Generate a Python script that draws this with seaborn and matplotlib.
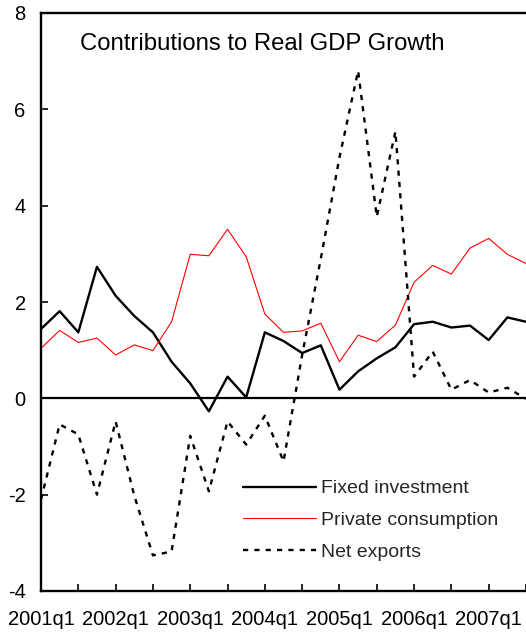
import numpy as np
import pandas as pd
import matplotlib
matplotlib.use("Agg")
import matplotlib.pyplot as plt
import seaborn as sns

# quarters 2001q1 .. 2007q3
quarters = [f"{y}q{q}" for y in range(2001, 2008) for q in range(1, 5)][:27]
tick_labels = ["2001q1", "2002q1", "2003q1", "2004q1", "2005q1", "2006q1", "2007q1"]

fixed_investment = [1.44, 1.81, 1.37, 2.73, 2.13, 1.71, 1.37, 0.76, 0.31, -0.27,
                    0.45, 0.02, 1.37, 1.19, 0.94, 1.10, 0.18, 0.56, 0.83, 1.06,
                    1.54, 1.59, 1.47, 1.51, 1.21, 1.68, 1.59]
private_consumption = [1.04, 1.41, 1.16, 1.25, 0.90, 1.11, 0.99, 1.59, 2.99, 2.96,
                       3.51, 2.94, 1.75, 1.37, 1.40, 1.56, 0.76, 1.31, 1.18, 1.52,
                       2.41, 2.76, 2.58, 3.12, 3.32, 2.99, 2.80]
net_exports = [-2.1, -0.54, -0.75, -2.0, -0.48, -2.02, -3.26, -3.18, -0.78, -1.93,
               -0.48, -0.96, -0.36, -1.31, 0.9, 2.9, 5.0, 6.8, 3.77, 5.54,
               0.45, 0.97, 0.18, 0.38, 0.12, 0.22, -0.01]

df = pd.DataFrame({
    "idx": np.arange(len(quarters)),
    "quarter": quarters,
    "Fixed investment": fixed_investment,
    "Private consumption": private_consumption,
    "Net exports": net_exports,
})

sns.set_theme(style="white")
plt.rcParams["font.family"] = ["Liberation Sans", "DejaVu Sans"]
plt.rcParams["axes.unicode_minus"] = False

W, H = 526, 633
fig = plt.figure(figsize=(W / 100, H / 100), dpi=100)
ax = fig.add_axes([41 / W, (H - 591) / H, (526 - 41) / W, (591 - 13) / H])

sns.lineplot(data=df, x="idx", y="Fixed investment", ax=ax, color="black",
             linewidth=1.7, label="Fixed investment")
sns.lineplot(data=df, x="idx", y="Private consumption", ax=ax, color="red",
             linewidth=0.8, label="Private consumption")
sns.lineplot(data=df, x="idx", y="Net exports", ax=ax, color="black",
             linewidth=1.7, label="Net exports")
ax.lines[-1].set_dashes((2.2, 2.6))

ax.axhline(0, color="black", linewidth=1.6, zorder=1)

ax.set_xlim(0, 26)
ax.set_ylim(-4, 8)
ax.set_yticks(range(-4, 9, 2))
ax.set_xticks(range(0, 27, 2))
ax.set_xticklabels([quarters[i] if quarters[i] in tick_labels else "" for i in range(0, 27, 2)])
ax.set_xlabel("")
ax.set_ylabel("")
ax.tick_params(axis="both", direction="in", length=5, width=1.2, colors="black",
               labelsize=14.5, labelcolor="black")
ax.tick_params(axis="y", pad=11, left=True)
ax.tick_params(axis="x", pad=14, bottom=True)

for side in ["left", "bottom", "top"]:
    ax.spines[side].set_visible(True)
    ax.spines[side].set_color("black")
    ax.spines[side].set_linewidth(1.7)
ax.spines["right"].set_visible(False)

ax.text((80 - 41) / 485, 1 - (50 - 13) / 578, "Contributions to Real GDP Growth",
        transform=ax.transAxes, fontsize=17.2, color="black", va="baseline")

# subtitle cropped by the top edge, only descenders show
fig.text(290 / W, 1 + 4.5 / H, "(In percentage points; year-on-year growth)",
         ha="center", va="baseline", fontsize=18, style="italic", color="black")

leg = ax.legend(loc="upper left", bbox_to_anchor=((243 - 41) / 485 - 0.016, 1 - (472 - 13) / 578),
                frameon=False, fontsize=14, handlelength=3.75, handletextpad=0.25,
                labelspacing=0.72, borderaxespad=0)
leg.get_lines()[2].set_dashes((2.2, 2.6))

fig.savefig("out.png", dpi=100)
